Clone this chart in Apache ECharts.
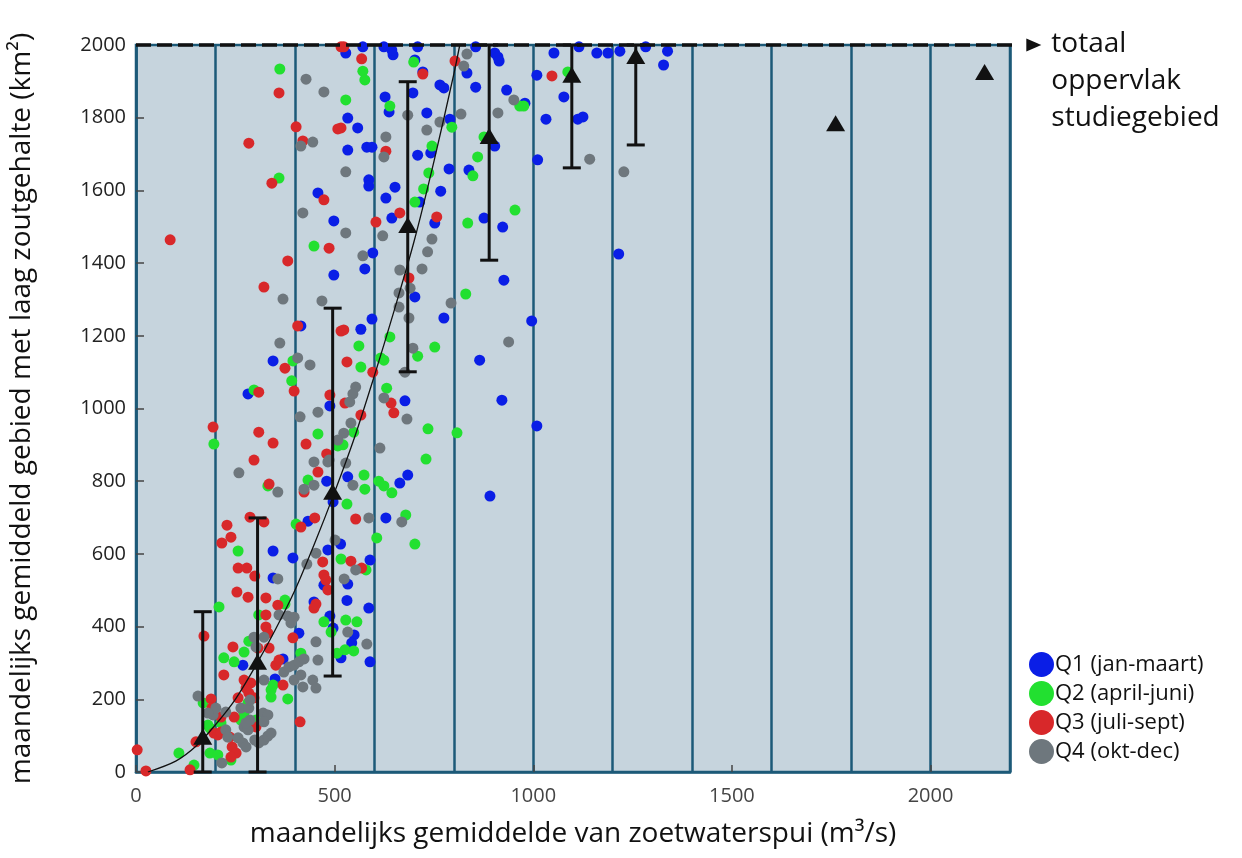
<!DOCTYPE html>
<html>
<head>
<meta charset="utf-8">
<script src="https://cdn.jsdelivr.net/npm/echarts@6/dist/echarts.min.js"></script>
<style>html,body{margin:0;padding:0;background:#fff;}#c{width:1242px;height:858px;}</style>
</head>
<body>
<div id="c"></div>
<script>
// ---- data ----
const q1Label = 'Q1 (jan-maart)';
const q2Label = 'Q2 (april-juni)';
const q3Label = 'Q3 (juli-sept)';
const q4Label = 'Q4 (okt-dec)';

const q1 = [[1052,1978],[1115,1995],[1160,1978],[1188,1978],[1218,1983],[1283,1995],[1338,1983],[1328,1945],[1009,1917],[1077,1857],[979,1840],[1032,1796],[1112,1796],[1125,1802],[1011,1684],
[1215,1425],[996,1241],[1009,952],
[891,759],[684,817],[664,795],[533,812],[629,699],[515,627],[589,583],[533,517],[531,472],
[586,451],[549,377],[543,355],[589,303],[516,314],
[528,1978],[571,1995],[533,1799],[558,1772],[533,1711],[581,1719],[594,1719],[586,1629],[586,1612],[629,1579],[652,1609],[644,1524],[624,1995],[647,1973],[644,1986],[702,1959],[722,1926],[709,1995],[697,1868],[765,1890],[775,1882],[627,1857],[637,1816],[732,1813],[790,1796],[709,1697],[742,1703],[788,1659],[838,1656],[855,1884],[833,1923],[855,1995],[903,1978],[911,1967],[914,1956],[933,1876],[903,1722],[767,1598],[876,1524],[923,1499],[752,1510],[714,1568],
[458,1593],[498,1516],
[498,1367],[415,1227],[345,1131],[282,1040],[488,1007],
[596,1428],[576,1384],[702,1307],[926,1353],[775,1249],[594,1246],[566,1218],[865,1133],[677,1021],[921,1023],
[480,800],[496,743],[345,608],[395,589],[433,690],[345,534],[473,514],[483,611],
[370,311],[269,294],[350,256],[448,468],[488,429],[496,396],[410,382]];

const q2 = [[976,1832],[1087,1926],
[735,944],[808,933],[730,861],[611,800],[624,787],[644,768],[574,817],[576,778],[531,737],[679,707],[606,644],[702,627],[516,586],[579,556],[528,418],[556,413],[526,336],[548,333],[548,935],[521,900],
[571,1928],[576,1904],[528,1849],[699,1953],[639,1832],[795,1774],[745,1722],[737,1648],[848,1640],[860,1692],[876,1747],[966,1832],[835,1510],[954,1546],[724,1604],[702,1568],
[362,1934],[360,1634],
[448,1447],[395,1131],[392,1076],[297,1051],
[830,1315],[639,1197],[561,1172],[752,1169],[709,1144],[616,1139],[624,1133],[566,1114],[631,1056],
[196,902],[458,930],[332,787],[433,803],[257,608],[403,682],[375,473],[508,897],
[209,454],[169,190],[221,314],[247,303],[272,330],[284,360],[375,462],[309,432],[473,413],[491,385],[506,327],[415,327],[146,19],[108,52],[181,129],[186,121],[186,52],[206,47],[214,135],[239,33],[264,143],[272,162],[282,190],[302,143],[340,226],[340,206],[345,239],[382,201]];

const q3 = [[1047,1915],
[553,696],[541,580],[568,561],
[523,1995],[568,1962],[516,1772],[604,1513],[664,1538],[722,1920],[803,1956],[757,1527],[629,1708],
[360,1868],[403,1775],[508,1769],[420,1736],[284,1730],[342,1620],[473,1574],[516,1995],
[86,1464],[486,1441],[382,1406],[322,1334],[407,1227],[516,1213],[375,1111],[398,1048],[309,1045],[488,1037],
[687,1359],[523,1216],[531,1128],[596,1100],[526,1015],[642,1015],[649,988],[566,982],
[194,949],[309,935],[345,905],[297,858],[335,792],[428,902],[480,875],[458,825],[423,770],[287,701],[322,688],[229,679],[239,646],[216,630],[415,674],[450,699],[257,561],[279,561],[299,539],[254,495],[282,481],[327,479],[470,578],[473,542],[478,528],[483,501],
[171,374],[189,201],[191,176],[244,344],[221,267],[307,341],[327,432],[327,399],[332,382],[357,459],[335,341],[352,294],[360,308],[370,239],[448,451],[453,462],[413,138],[395,369],[3,61],[25,3],[136,6],[151,83],[196,107],[206,102],[214,110],[214,151],[236,96],[242,69],[252,52],[239,41],[257,204],[247,151],[284,217],[297,204],[289,245],[272,253],[277,231],[302,124]];

const q4 = [[1142,1686],[1228,1651],
[546,789],[614,891],[528,850],[586,699],[669,688],[553,556],[524,531],[541,960],[523,932],
[533,385],[581,352],
[528,1651],[684,1807],[732,1766],[765,1788],[818,1810],[629,1747],[624,1692],[825,1942],[833,1975],[951,1849],[911,1813],
[428,1906],[473,1871],[445,1733],[415,1722],[420,1538],
[370,1301],[468,1296],[362,1180],[407,1139],[438,1120],[413,977],[458,990],
[528,1483],[621,1475],[571,1420],[745,1466],[734,1431],[720,1384],[664,1381],[690,1331],[662,1318],[662,1279],[793,1290],[687,1249],[697,1166],[677,1100],[938,1183],[553,1059],[546,1040],[538,1018],[624,1029],[682,971],
[259,823],[357,770],[448,853],[483,853],[448,789],[423,778],[357,531],[430,572],[453,602],[501,638],[508,913],[486,858],
[156,209],[194,157],[360,432],[382,429],[297,371],[322,371],[302,344],[372,275],[385,289],[398,294],[410,303],[423,311],[398,253],[415,267],[420,234],[445,253],[453,231],[458,308],[453,358],[398,426],[390,410],[216,25],[226,165],[201,176],[226,116],[231,96],[257,94],[269,80],[277,69],[272,124],[282,116],[287,143],[277,135],[264,176],[284,176],[287,198],[181,162],[299,88],[309,80],[322,88],[332,99],[340,107],[320,162],[332,157],[322,138],[322,253]];

// class means and spread
const meanX   = [168, 306, 495, 684, 889, 1097, 1258, 1761, 2136];
const meanY   = [ 97, 303, 771, 1505, 1750, 1918, 1970, 1785, 1926];
const errLow  = [  0,   0, 264, 1101, 1408, 1662, 1725, null, null];
const errHigh = [441, 699, 1276, 1899, 2000, 2000, 2000, null, null];

// fitted curve (read points)
const curveX = [30,100,150,200,250,300,350,400,450,500,550,600,650,700,750,800,815];
const curveY = [0,30,70,130,200,290,390,500,630,770,920,1090,1270,1460,1680,1920,2000];

// total area reference
const totalArea = 2000;
const refLineX = [0, 2236];
const arrowX = 2260;
const totalLabel = 'totaal\noppervlak\nstudiegebied';

const xTicks = [0, 500, 1000, 1500, 2000];
const yTitle = 'maandelijks gemiddeld gebied met laag zoutgehalte (km²)';
const xTitle = 'maandelijks gemiddelde van zoetwaterspui (m³/s)';

// ---- chart ----
const FONT = '"Open Sans", "Noto Sans", sans-serif';
const TEAL = '#1c5a78';
const chart = echarts.init(document.getElementById('c'), null, {renderer: 'canvas'});

const errData = meanX.map((x, i) => [x, errLow[i], errHigh[i]]).filter(d => d[1] != null);

const option = {
  animation: false,
  textStyle: {fontFamily: FONT},
  grid: {left: 135, right: 232, top: 45, bottom: 86, show: true, backgroundColor: '#c6d4dd', borderColor: TEAL, borderWidth: 2.5},
  legend: {
    data: [q1Label, q2Label, q3Label, q4Label],
    orient: 'vertical', left: 1024, top: 647,
    icon: 'circle', itemWidth: 25, itemHeight: 25, itemGap: 4,
    textStyle: {fontSize: 22, color: '#111', fontFamily: FONT, padding: [0,0,0,-4]}
  },
  xAxis: [{
    type: 'value', min: 0, max: 2200, interval: 500,
    axisLine: {show: true, lineStyle: {color: TEAL, width: 2.5}},
    axisTick: {show: true, inside: true, length: 7, lineStyle: {color: '#444', width: 1.5}},
    axisLabel: {fontSize: 20, color: '#444', margin: 14, showMaxLabel: false, fontFamily: FONT,
      formatter: v => xTicks.indexOf(v) >= 0 ? String(v) : ''},
    splitLine: {show: false},
    name: xTitle, nameLocation: 'middle', nameGap: 48,
    nameTextStyle: {fontSize: 28, color: '#111', fontFamily: FONT}
  }, {
    type: 'value', min: 0, max: 2200, interval: 200, position: 'bottom',
    axisLine: {show: false}, axisTick: {show: false}, axisLabel: {show: false},
    splitLine: {show: true, lineStyle: {color: TEAL, width: 2.5}}
  }],
  yAxis: {
    type: 'value', min: 0, max: 2000, interval: 200,
    axisLine: {show: true, lineStyle: {color: TEAL, width: 2.5}},
    axisTick: {show: true, inside: true, length: 8, lineStyle: {color: '#444', width: 1.5}},
    axisLabel: {fontSize: 20, color: '#222', margin: 10, fontFamily: FONT, formatter: v => String(v)},
    splitLine: {show: false},
    name: yTitle, nameLocation: 'middle', nameGap: 100, nameRotate: 90,
    nameTextStyle: {fontSize: 28, color: '#111', fontFamily: FONT}
  },
  series: [
    {name: q1Label, type: 'scatter', data: q1, symbolSize: 11, itemStyle: {color: '#0a1ee6', opacity: 1}, z: 3},
    {name: q2Label, type: 'scatter', data: q2, symbolSize: 11, itemStyle: {color: '#22e030', opacity: 1}, z: 3},
    {name: q3Label, type: 'scatter', data: q3, symbolSize: 11, itemStyle: {color: '#d8282a', opacity: 1}, z: 3},
    {name: q4Label, type: 'scatter', data: q4, symbolSize: 11, itemStyle: {color: '#6e777d', opacity: 1}, z: 3},
    {
      type: 'line', data: curveX.map((x, i) => [x, curveY[i]]), smooth: 0.3, showSymbol: false,
      lineStyle: {color: '#111', width: 1.3}, z: 4, silent: true
    },
    {
      type: 'custom', data: errData, z: 5, silent: true,
      renderItem: (params, api) => {
        const x = api.value(0);
        const lo = api.coord([x, api.value(1)]);
        const hi = api.coord([x, api.value(2)]);
        const hw = 9;
        const style = {stroke: '#111', lineWidth: 3};
        return {type: 'group', children: [
          {type: 'line', shape: {x1: lo[0], y1: lo[1], x2: hi[0], y2: hi[1]}, style},
          {type: 'line', shape: {x1: lo[0]-hw, y1: lo[1], x2: lo[0]+hw, y2: lo[1]}, style},
          {type: 'line', shape: {x1: hi[0]-hw, y1: hi[1], x2: hi[0]+hw, y2: hi[1]}, style}
        ]};
      }
    },
    {
      type: 'scatter', data: meanX.map((x, i) => [x, meanY[i]]), symbol: 'triangle', symbolSize: [19, 16],
      itemStyle: {color: '#111', opacity: 1}, z: 6, silent: true
    },
    {
      type: 'line', data: refLineX.map(x => [x, totalArea]), showSymbol: false, clip: false,
      lineStyle: {color: '#111', width: 3.5, type: [15, 6]}, z: 7, silent: true
    },
    {
      type: 'scatter', data: [[arrowX, totalArea]], symbol: 'triangle', symbolRotate: -90, symbolSize: [13, 15],
      clip: false, itemStyle: {color: '#111', opacity: 1}, z: 7, silent: true,
      label: {show: true, formatter: totalLabel, position: [25, -13], align: 'left', verticalAlign: 'top',
        fontSize: 28, lineHeight: 37, color: '#111', fontFamily: FONT}
    }
  ]
};
chart.setOption(option);
</script>
</body>
</html>
